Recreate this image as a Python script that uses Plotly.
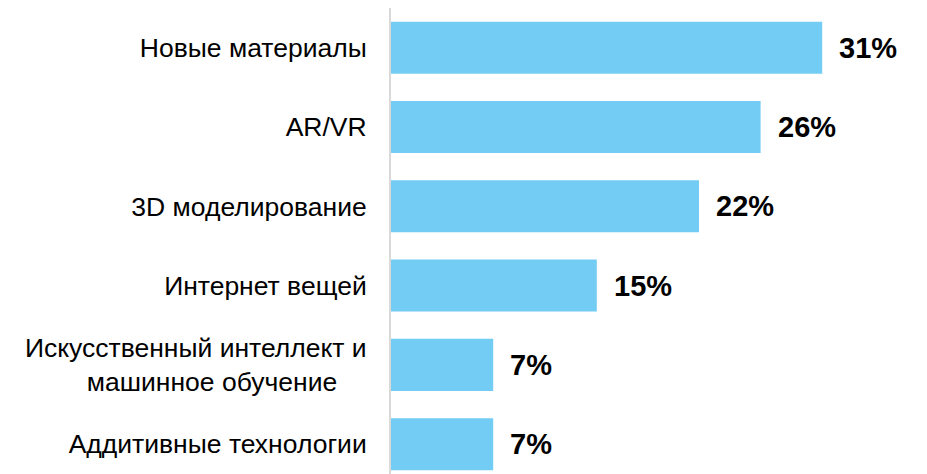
import plotly.graph_objects as go

categories = [
    "Новые материалы",
    "AR/VR",
    "3D моделирование",
    "Интернет вещей",
    "Искусственный интеллект и<br>машинное обучение\u00a0\u00a0\u00a0\u00a0",
    "Аддитивные технологии",
]
values = [30.8, 26.4, 22.0, 14.7, 7.3, 7.3]
labels = ["31%", "26%", "22%", "15%", "7%", "7%"]

BAR_COLOR = "#73CCF3"
FONT = "Liberation Sans, Arial, sans-serif"

fig = go.Figure()
fig.add_trace(go.Bar(
    x=values,
    y=categories,
    orientation="h",
    marker=dict(color=BAR_COLOR, line=dict(width=0)),
    hoverinfo="skip",
))

for c, v, t in zip(categories, values, labels):
    fig.add_annotation(
        x=v, y=c, text=f"<b>{t}</b>", showarrow=False,
        xanchor="left", yanchor="middle", xshift=15,
        font=dict(family=FONT, size=29, color="#000000"),
    )

fig.update_layout(
    width=927, height=474,
    margin=dict(l=383, r=40, t=0, b=8),
    paper_bgcolor="white", plot_bgcolor="white",
    bargap=0.344,
    showlegend=False,
    font=dict(family=FONT, size=26.5, color="#000000"),
    xaxis=dict(range=[0, 36], visible=False, showgrid=False, zeroline=False),
    yaxis=dict(
        type="category",
        categoryorder="array", categoryarray=categories,
        range=[5.376, -0.5],
        showline=True, linecolor="#D9D9D9", linewidth=2,
        showgrid=False, zeroline=False,
        ticks="", ticklabelstandoff=17,
        tickfont=dict(family=FONT, size=26.5, color="#000000"),
    ),
)

fig.write_html("out.html", config={"displayModeBar": False})
